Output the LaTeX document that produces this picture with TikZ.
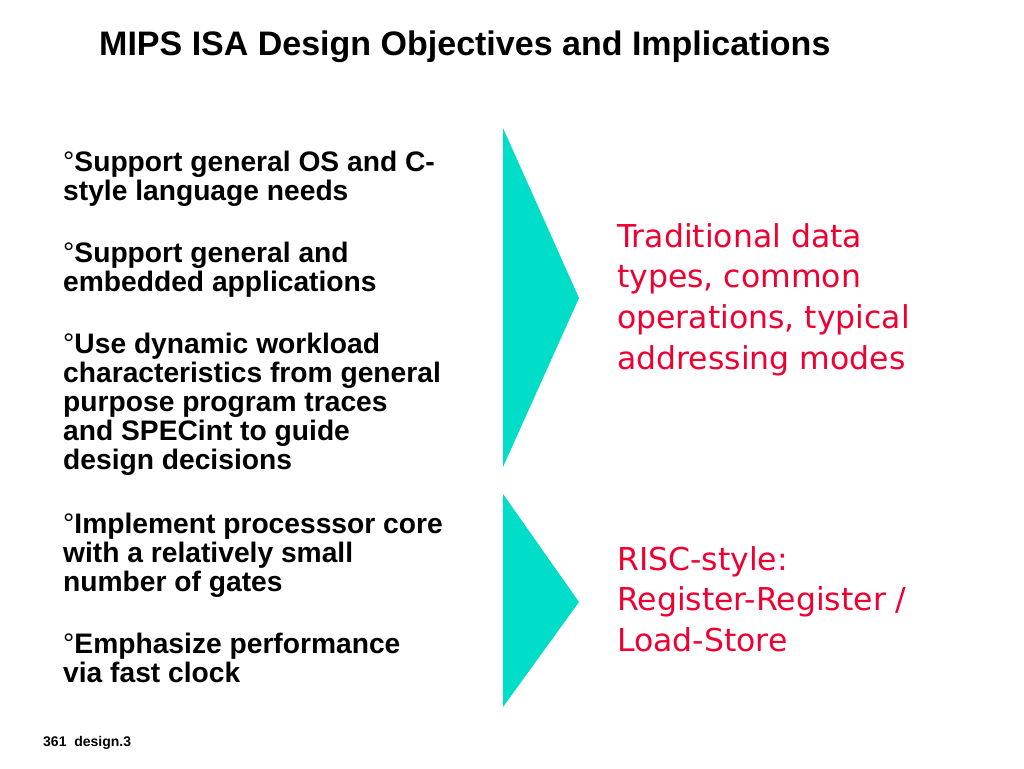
\documentclass[tikz,border=0pt]{standalone}
\usepackage{fontspec}
\setmainfont{Liberation Sans}
\newfontfamily\redfont{DejaVu Sans}
\definecolor{chev}{RGB}{0,221,200}
\definecolor{redtxt}{RGB}{240,0,50}
\newcommand{\degbul}{{\mdseries °}}
\tikzset{
  chevron/.style={fill=chev, draw=none},
  titletext/.style={anchor=base west, inner sep=0pt, font=\bfseries\fontsize{34}{40}\selectfont},
  bullettext/.style={anchor=base west, inner sep=0pt, font=\bfseries\fontsize{28.2}{29}\selectfont},
  redblock/.style={anchor=base west, inner sep=0pt, text=redtxt, font=\redfont\fontsize{31.5}{40.7}\selectfont},
  footer/.style={anchor=base west, inner sep=0pt, font=\bfseries\fontsize{14}{16}\selectfont}
}
\begin{document}
\begin{tikzpicture}[x=1pt,y=-1pt]
\useasboundingbox (0,0) rectangle (1024,768);
\fill[white] (0,0) rectangle (1024,768);
% title
\node[titletext] (title) at (99,56) {MIPS ISA Design Objectives and Implications};
% chevrons
\fill[chevron] (503,128) -- (579,298) -- (503,467) -- cycle;
\fill[chevron] (503,494) -- (579,602) -- (503,707) -- cycle;
% left bullets
\node[bullettext] (b1) at (63,171) {\parbox[t]{420pt}{\raggedright \degbul Support general OS and C-\\style language needs}};
\node[bullettext] (b2) at (63,262) {\parbox[t]{420pt}{\raggedright \degbul Support general and\\embedded applications}};
\node[bullettext] (b3) at (63,353) {\parbox[t]{420pt}{\raggedright \degbul Use dynamic workload\\characteristics from general\\purpose program traces\\and SPECint to guide\\design decisions}};
\node[bullettext] (b4) at (63,533) {\parbox[t]{420pt}{\raggedright \degbul Implement processsor core\\with a relatively small\\number of gates}};
\node[bullettext] (b5) at (63,653) {\parbox[t]{420pt}{\raggedright \degbul Emphasize performance\\via fast clock}};
% right red text
\node[redblock] (r1) at (617,247) {\parbox[t]{400pt}{\raggedright Traditional data\\types, common\\operations, typical\\addressing modes}};
\node[redblock] (r2) at (617,570) {\parbox[t]{400pt}{\raggedright RISC-style:\\Register-Register /\\Load-Store}};
% footer
\node[footer] (foot) at (43,746) {361~~design.3};
\end{tikzpicture}
\end{document}
